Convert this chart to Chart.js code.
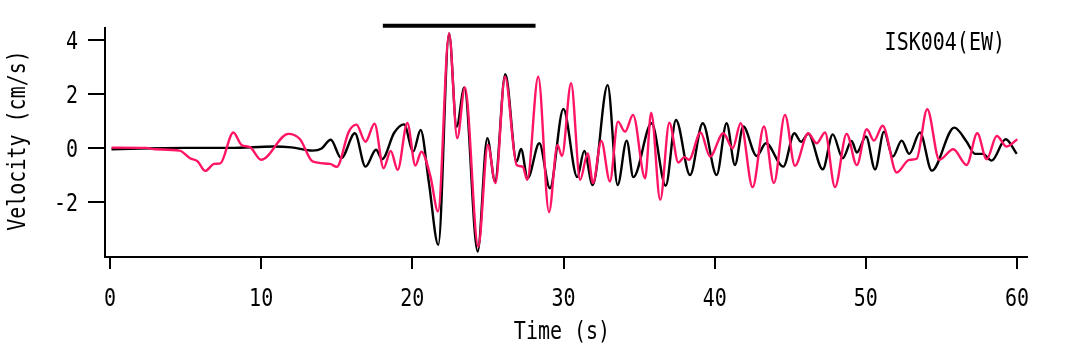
<!DOCTYPE html>
<html>
<head>
<meta charset="utf-8">
<script src="https://cdn.jsdelivr.net/npm/chart.js@4.4.0/dist/chart.umd.min.js"></script>
<style>
  body { margin: 0; background: #fff; }
</style>
</head>
<body>
<canvas id="waveChart" width="1077" height="344"></canvas>
<script>
// Observed (black) trace: time (s) and velocity (cm/s) at turning points
const blackTime = [0.1, 2.0, 5.0, 8.0, 10.8, 12.0, 13.4, 14.0, 14.6, 15.3,
    16.2, 16.9, 17.6, 18.0, 18.8, 19.45, 20.06, 20.55, 21.1, 21.72,
    22.43, 22.93, 23.44, 24.32, 24.96, 25.47, 26.15, 26.9, 27.19, 27.63,
    28.4, 29.1, 29.99, 30.91, 31.37, 31.93, 32.92, 33.58, 34.18, 34.62,
    35.83, 36.76, 37.44, 38.37, 39.21, 40.13, 40.79, 41.34, 41.89, 42.78,
    43.39, 44.54, 45.27, 45.71, 46.19, 47.15, 47.81, 48.47, 49.06, 49.4,
    50.01, 50.61, 51.2, 51.78, 52.37, 52.87, 53.58, 54.36, 55.85, 56.67,
    57.22, 57.75, 58.32, 59.25, 59.98];
const blackVel = [-0.05, -0.02, 0.0, 0.0, 0.05, 0.02, -0.1, -0.02, 0.3, -0.38,
    0.54, -0.69, -0.07, -0.42, 0.56, 0.87, -0.13, 0.66, -1.3, -3.58,
    4.23, 0.79, 2.23, -3.83, 0.36, -1.24, 2.72, -0.5, -0.04, -1.12,
    0.17, -1.49, 1.44, -1.08, -0.11, -1.37, 2.32, -1.37, 0.27, -1.08,
    0.91, -1.4, 1.03, -1.0, 0.91, -1.0, 0.91, -0.63, 0.79, -0.3,
    0.17, -0.69, 0.54, 0.23, 0.52, -0.79, 0.5, -0.38, 0.26, -0.17,
    0.42, -0.79, 0.6, -0.32, 0.27, -0.22, 0.57, -0.84, 0.75, 0.23,
    -0.22, -0.22, -0.47, 0.32, -0.22];

// Synthetic (pink) trace
const pinkTime = [0.1, 2.4, 3.0, 4.6, 5.3, 5.8, 6.3, 6.9, 7.3, 8.16,
    8.7, 9.26, 10.0, 11.8, 12.57, 13.4, 14.55, 15.0, 15.8, 16.3,
    16.9, 17.5, 18.1, 18.57, 19.03, 19.67, 20.2, 20.6, 21.2, 21.7,
    22.43, 22.97, 23.48, 24.36, 25.0, 25.5, 26.13, 26.9, 27.3, 27.6,
    28.33, 29.04, 29.6, 29.9, 30.5, 31.1, 31.6, 31.95, 32.5, 33.07,
    33.6, 34.07, 34.6, 35.4, 35.8, 36.4, 37.0, 37.6, 38.0, 38.3,
    39.07, 39.69, 40.57, 41.19, 41.72, 42.51, 43.26, 43.92, 44.65, 45.31,
    46.19, 46.75, 47.3, 47.96, 48.73, 49.4, 50.06, 50.54, 51.11, 52.04,
    52.87, 53.36, 54.06, 54.86, 55.78, 56.67, 57.37, 57.99, 58.66, 59.32,
    60.02];
const pinkVel = [0.01, 0.0, -0.05, -0.1, -0.38, -0.5, -0.85, -0.59, -0.57, 0.57,
    0.11, 0.03, -0.44, 0.52, 0.32, -0.5, -0.59, -0.7, 0.6, 0.86,
    0.23, 0.89, -0.75, -0.11, -0.81, 0.92, -0.65, -0.14, -1.06, -2.35,
    4.23, 0.36, 2.23, -3.64, 0.11, -1.3, 2.63, -0.63, -0.69, -1.18,
    2.63, -2.37, 0.11, -0.3, 2.39, -1.18, -0.2, -1.3, 0.26, -1.24,
    0.97, 0.6, 1.22, -1.12, 1.3, -1.92, 0.93, -0.54, -0.34, -0.44,
    0.57, -0.32, 0.54, -0.01, 0.91, -1.45, 0.79, -1.3, 1.22, -0.66,
    0.54, 0.17, 0.57, -1.45, 0.52, -0.63, 0.69, 0.27, 0.82, -0.91,
    -0.44, -0.4, 1.43, -0.44, -0.05, -0.63, 0.54, -0.42, 0.44, 0.05,
    0.32];

// Time window bar above the plot
const barTime = [18.05, 28.15];
const barVel = [4.51, 4.51];

const xTicks = [0, 10, 20, 30, 40, 50, 60];
const yTicks = [-2, 0, 2, 4];
const xTitle = 'Time (s)';
const yTitle = 'Velocity (cm/s)';
const stationLabel = 'ISK004(EW)';

const FONT = "25px 'DejaVu Sans Mono', 'Liberation Mono', monospace";
const SQUEEZE = 0.8; // narrow the mono font to look like a gothic half-width font

function toPoints(ts, vs) {
    return ts.map((t, i) => ({ x: t, y: vs[i] }));
}

// draw text narrowed horizontally, optionally rotated
function drawNarrow(ctx, text, x, y, align, angle) {
    ctx.save();
    ctx.translate(x, y);
    if (angle) ctx.rotate(angle);
    ctx.scale(SQUEEZE, 1);
    ctx.font = FONT;
    ctx.fillStyle = '#000';
    ctx.textAlign = align;
    ctx.textBaseline = 'alphabetic';
    ctx.fillText(text, 0, 0);
    ctx.restore();
}

// Tick labels, axis titles and station label
const textPlugin = {
    id: 'narrowText',
    afterDraw(chart) {
        const ctx = chart.ctx;
        const xs = chart.scales.x;
        const ys = chart.scales.y;
        xTicks.forEach(v => drawNarrow(ctx, String(v), xs.getPixelForValue(v), 306, 'center'));
        yTicks.forEach(v => drawNarrow(ctx, String(v), 78, ys.getPixelForValue(v) + 9, 'right'));
        drawNarrow(ctx, xTitle, (xs.left + xs.right) / 2 - 4, 339, 'center');
        drawNarrow(ctx, yTitle, 25, (ys.top + ys.bottom) / 2 - 2, 'center', -Math.PI / 2);
        drawNarrow(ctx, stationLabel, 1005, 50, 'right');
    }
};

const ctx = document.getElementById('waveChart').getContext('2d');
new Chart(ctx, {
    type: 'line',
    data: {
        datasets: [
            {
                label: 'pink',
                data: toPoints(pinkTime, pinkVel),
                borderColor: '#ff1466',
                borderWidth: 2.4,
                pointRadius: 0,
                cubicInterpolationMode: 'monotone',
                fill: false,
                order: 0,
            },
            {
                label: 'black',
                data: toPoints(blackTime, blackVel),
                borderColor: '#000000',
                borderWidth: 2.4,
                pointRadius: 0,
                cubicInterpolationMode: 'monotone',
                fill: false,
                order: 1,
            },
            {
                label: 'window',
                data: toPoints(barTime, barVel),
                borderColor: '#000000',
                borderWidth: 4,
                pointRadius: 0,
                clip: false,
                fill: false,
                order: 2,
            },
        ],
    },
    options: {
        responsive: false,
        animation: false,
        devicePixelRatio: 1,
        layout: { padding: { left: 0, top: 28, right: 50, bottom: 0 } },
        plugins: {
            legend: { display: false },
            tooltip: { enabled: false },
        },
        scales: {
            x: {
                type: 'linear',
                min: -0.33,
                max: 60.66,
                afterBuildTicks: (axis) => { axis.ticks = xTicks.map(v => ({ value: v })); },
                afterFit: (axis) => { axis.height = 87; },
                border: { color: '#000', width: 2 },
                grid: { drawOnChartArea: false, drawTicks: true, tickLength: 12, color: '#000', lineWidth: 2 },
                ticks: { display: false },
            },
            y: {
                min: -4.03,
                max: 4.43,
                afterBuildTicks: (axis) => { axis.ticks = yTicks.map(v => ({ value: v })); },
                afterFit: (axis) => { axis.width = 105; },
                border: { color: '#000', width: 2 },
                grid: { drawOnChartArea: false, drawTicks: true, tickLength: 17, color: '#000', lineWidth: 2 },
                ticks: { display: false },
            },
        },
    },
    plugins: [textPlugin],
});
</script>
</body>
</html>
